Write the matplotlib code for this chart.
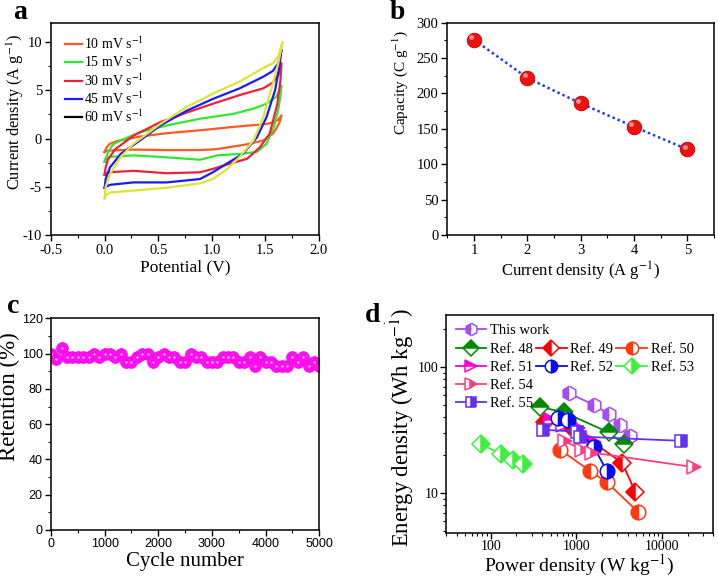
import matplotlib
matplotlib.use("Agg")
import matplotlib.pyplot as plt
import matplotlib.transforms as mtransforms
from matplotlib.lines import Line2D
from matplotlib.ticker import MultipleLocator, FuncFormatter, LogLocator, NullFormatter

plt.rcParams['font.family'] = ['Liberation Serif', 'DejaVu Serif']
plt.rcParams['mathtext.fontset'] = 'stix'
plt.rcParams['axes.unicode_minus'] = False

# ---------------- data ----------------
# (a) CV curves
cv_labels = ['10 mV s$^{-1}$', '15 mV s$^{-1}$', '30 mV s$^{-1}$', '45 mV s$^{-1}$', '60 mV s$^{-1}$']
cv10_x = [0, 0.02, 0.05, 0.12, 0.21, 0.33, 0.58, 0.89, 1.2, 1.51, 1.58, 1.62, 1.65, 1.63, 1.60, 1.57, 1.48, 1.33, 1.05, 0.89, 0.58, 0.27, 0.05, 0.01, 0]
cv10_y = [-1.4, -0.9, -0.55, -0.25, -0.05, 0.2, 0.55, 0.85, 1.2, 1.5, 1.7, 1.95, 2.4, 1.6, 1.0, 0.5, -0.2, -0.6, -1.1, -1.2, -1.2, -1.15, -1.25, -1.3, -1.4]
cv15_x = [0, 0.02, 0.04, 0.08, 0.15, 0.33, 0.58, 0.89, 1.2, 1.39, 1.51, 1.60, 1.65, 1.64, 1.62, 1.58, 1.51, 1.42, 1.26, 1.05, 0.89, 0.58, 0.27, 0.05, 0.01, 0]
cv15_y = [-2.4, -1.8, -1.25, -0.6, -0.2, 0.65, 1.35, 2.05, 2.55, 3.1, 3.6, 4.3, 5.5, 4.4, 3.0, 1.2, -0.55, -1.4, -1.6, -1.75, -2.2, -1.95, -1.75, -1.9, -2.1, -2.4]
cv30_x = [0, 0.01, 0.03, 0.1, 0.27, 0.52, 0.77, 1.01, 1.26, 1.48, 1.57, 1.62, 1.65, 1.64, 1.61, 1.54, 1.45, 1.33, 1.17, 1.01, 0.89, 0.58, 0.27, 0.05, 0.01, 0]
cv30_y = [-3.75, -3.0, -2.2, -1.1, 0.3, 1.7, 2.7, 3.6, 4.5, 5.2, 5.8, 6.6, 7.8, 6.0, 3.5, 0.5, -0.9, -2.1, -2.6, -3.15, -3.5, -3.6, -3.35, -3.5, -3.6, -3.75]
cv45_x = [0, 0.01, 0.05, 0.15, 0.33, 0.52, 0.77, 1.01, 1.26, 1.48, 1.57, 1.62, 1.65, 1.63, 1.59, 1.51, 1.42, 1.29, 1.14, 1.01, 0.89, 0.58, 0.27, 0.05, 0.01, 0]
cv45_y = [-5.1, -4.2, -3.0, -1.6, -0.2, 1.35, 2.9, 4.1, 5.2, 6.4, 7.0, 7.8, 9.2, 7.4, 5.0, 2.2, 0.1, -1.6, -2.6, -3.5, -4.2, -4.55, -4.55, -4.8, -5.0, -5.1]
cv60_x = [0, 0.01, 0.05, 0.15, 0.27, 0.52, 0.77, 1.01, 1.26, 1.48, 1.57, 1.62, 1.66, 1.62, 1.56, 1.48, 1.39, 1.26, 1.14, 1.01, 0.89, 0.58, 0.27, 0.05, 0.01, 0]
cv60_y = [-6.2, -5.0, -3.7, -1.9, -0.55, 1.5, 3.3, 4.65, 5.9, 7.3, 7.8, 8.5, 10.0, 7.8, 5.3, 2.2, -0.2, -1.9, -3.2, -4.2, -4.65, -5.1, -5.4, -5.6, -5.9, -6.2]

# (b) capacity vs current density
current_density = [1, 2, 3, 4, 5]
capacity = [276, 222, 186, 153, 121]

# (c) cycling retention
cycles = list(range(0, 5001, 100))
retention = [100, 97, 103, 98, 98, 98, 98, 98, 100, 98, 100, 100, 98, 100, 95, 95, 98, 100, 100, 95,
             98, 100, 98, 98, 95, 95, 100, 98, 98, 95, 95, 95, 98, 98, 98, 95, 95, 98, 93, 98,
             95, 95, 93, 93, 93, 98, 95, 98, 93, 95, 93]

# (d) Ragone plot
rag_labels = ['This work', 'Ref. 48', 'Ref. 49', 'Ref. 50', 'Ref. 51', 'Ref. 52', 'Ref. 53', 'Ref. 54', 'Ref. 55']
p_this = [813, 1597, 2393, 3280, 4217];  e_this = [62.2, 50.2, 42.4, 34.9, 28.2]
p_48 = [378, 723, 2393, 3589];           e_48 = [48.2, 43.7, 30.3, 24.6]
p_49 = [432, 849, 3460, 4910];           e_49 = [36.8, 33.8, 17.4, 10.2]
p_50 = [649, 1434, 2287, 5232];          e_50 = [22.1, 15.1, 12.2, 7.15]
p_51 = [509, 703, 1055, 1625];           e_51 = [38.2, 34.8, 33.0, 25.5]
p_52 = [619, 811, 1592, 2285];           e_52 = [39.6, 37.7, 23.4, 15.0]
p_53 = [76, 131, 181, 241];              e_53 = [24.6, 20.5, 18.2, 17.1]
p_54 = [743, 1165, 1527, 23700];         e_54 = [25.7, 22.1, 21.0, 16.1]
p_55 = [413, 1018, 1114, 16860];         e_55 = [31.8, 30.8, 28.1, 26.0]

# ---------------- figure ----------------
W, H = 718, 578
fig = plt.figure(figsize=(W / 100, H / 100), dpi=100)
fig.patch.set_facecolor('white')


def ax_px(l, t, r, b):
    return fig.add_axes([l / W, 1 - b / H, (r - l) / W, (b - t) / H])


def style(ax, lab=10.5, pad=2.5):
    ax.tick_params(which='both', direction='out', top=False, right=False)
    ax.tick_params(which='major', length=4, width=1, labelsize=lab, pad=pad)
    ax.tick_params(which='minor', length=2.2, width=0.8)
    for s in ax.spines.values():
        s.set_linewidth(1.1)


# ---- (a) ----
axa = ax_px(51, 22.7, 319, 235)
cv_colors = ['#FF5A1F', '#33E633', '#F0203A', '#1A1AFF', '#DDE530']
for xs, ys, c in zip([cv10_x, cv15_x, cv30_x, cv45_x, cv60_x],
                     [cv10_y, cv15_y, cv30_y, cv45_y, cv60_y], cv_colors):
    axa.plot(xs, ys, color=c, lw=1.6, solid_joinstyle='round')
axa.set_xlim(-0.5, 2.0)
axa.set_ylim(-10, 12)
axa.xaxis.set_major_locator(MultipleLocator(0.5))
axa.xaxis.set_minor_locator(MultipleLocator(0.25))
axa.yaxis.set_major_locator(MultipleLocator(5))
axa.yaxis.set_minor_locator(MultipleLocator(2.5))
style(axa)
axa.set_xlabel('Potential (V)', fontsize=12.5, labelpad=2)
axa.set_ylabel('Current density (A g$^{-1}$)', fontsize=11.8)
axa.yaxis.set_label_coords(-0.095, 0.58)
leg_colors = ['#FF5A1F', '#33E633', '#F0203A', '#1A1AFF', '#000000']
handles = [Line2D([], [], color=c, lw=1.6) for c in leg_colors]
axa.legend(handles, cv_labels, loc='upper left', bbox_to_anchor=(0.03, 0.965), frameon=False,
           fontsize=10, handlelength=1.25, handletextpad=0.15, labelspacing=0.12, borderaxespad=0)
fig.text(13 / W, 1 - 19 / H, 'a', fontsize=20, fontweight='bold')

# ---- (b) ----
axb = ax_px(447.3, 22.7, 714, 235)
axb.plot(current_density, capacity, linestyle=(0, (1, 1.2)), color='#2040E0', lw=1.8, zorder=2)
axb.plot(current_density, capacity, 'o', ms=10.5, color='#F01010', mec='#C00000', mew=0.6, zorder=3)
hl = mtransforms.offset_copy(axb.transData, fig=fig, x=-1.8, y=1.8, units='points')
axb.plot(current_density, capacity, 'o', ms=3.5, color='#FF9090', mec='none', transform=hl, zorder=4)
axb.set_xlim(0.5, 5.5)
axb.set_ylim(0, 300)
axb.xaxis.set_major_locator(MultipleLocator(1))
axb.xaxis.set_minor_locator(MultipleLocator(0.5))
axb.yaxis.set_major_locator(MultipleLocator(50))
axb.yaxis.set_minor_locator(MultipleLocator(25))
style(axb)
axb.set_xlabel('Current density (A g$^{-1}$)', fontsize=12, labelpad=2)
axb.set_ylabel('Capacity (C g$^{-1}$)', fontsize=11)
axb.yaxis.set_label_coords(-0.14, 0.72)
fig.text(390 / W, 1 - 19 / H, 'b', fontsize=20, fontweight='bold')

# ---- (c) ----
axc = ax_px(51, 318.3, 319.3, 530)
axc.plot(cycles, retention, 'o', ms=8.5, color='#FF10F0', mec='#FF00E8', mew=0.5)
axc.plot(cycles, retention, 'o', ms=1.6, color='#FFD0FF', mec='none')
axc.set_xlim(0, 5000)
axc.set_ylim(0, 120)
axc.xaxis.set_major_locator(MultipleLocator(1000))
axc.xaxis.set_minor_locator(MultipleLocator(500))
axc.yaxis.set_major_locator(MultipleLocator(20))
axc.yaxis.set_minor_locator(MultipleLocator(10))
style(axc, lab=9, pad=2)
for t in axc.get_xticklabels() + axc.get_yticklabels():
    t.set_family(['Liberation Sans', 'DejaVu Sans'])
axc.set_xlabel('Cycle number', fontsize=15, labelpad=1)
axc.set_ylabel('Retention (%)', fontsize=16.5)
axc.yaxis.set_label_coords(-0.115, 0.63)
fig.text(7 / W, 1 - 313 / H, 'c', fontsize=20, fontweight='bold')

# ---- (d) ----
axd = ax_px(446, 315, 713.3, 532.7)
series = [
    (p_this, e_this, '#A64CF0', 'h', 'left'),
    (p_48, e_48, '#008A00', 'D', 'top'),
    (p_49, e_49, '#FF0000', 'D', 'left'),
    (p_50, e_50, '#FF3A10', 'o', 'left'),
    (p_51, e_51, '#FF00CC', '>', 'top'),
    (p_52, e_52, '#0A0AF0', 'o', 'right'),
    (p_53, e_53, '#3CF03C', 'D', 'right'),
    (p_54, e_54, '#FF3D80', '>', 'right'),
    (p_55, e_55, '#6630F0', 's', 'right'),
]
lines = []
for (px, ey, c, m, fs), lab in zip(series, rag_labels):
    msz = 10.5 if m in ('o', 'h', '>') else 9
    ln, = axd.plot(px, ey, color=c, lw=1.3, marker=m, ms=msz, fillstyle=fs,
                   markerfacecoloralt='white', mec=c, mew=1.1, label=lab)
    lines.append(ln)
axd.set_xscale('log')
axd.set_yscale('log')
axd.set_xlim(30, 40000)
axd.set_ylim(4.87, 258)
fmt = FuncFormatter(lambda v, p: '%d' % round(v))
axd.xaxis.set_major_formatter(fmt)
axd.yaxis.set_major_formatter(fmt)
axd.xaxis.set_minor_formatter(NullFormatter())
axd.yaxis.set_minor_formatter(NullFormatter())
axd.xaxis.set_major_locator(LogLocator(base=10, numticks=10))
axd.yaxis.set_major_locator(LogLocator(base=10, numticks=10))
style(axd, lab=10, pad=1.5)
axd.set_xlabel('Power density (W kg$^{-1}$)', fontsize=14)
axd.xaxis.set_label_coords(0.5, -0.092)
axd.set_ylabel('Energy density (Wh kg$^{-1}$)', fontsize=16.3)
axd.yaxis.set_label_coords(-0.112, 0.483)
blank = Line2D([], [], alpha=0)
leg_kw = dict(frameon=False, fontsize=10.5, handlelength=2.1, handletextpad=0.25,
              labelspacing=0.32, columnspacing=0.2, borderaxespad=0, markerscale=0.85,
              loc='upper left')
leg1 = axd.legend([lines[0]], ['This work'], bbox_to_anchor=(0.015, 0.985), **leg_kw)
axd.add_artist(leg1)
leg_h = [lines[1], lines[4], lines[7], lines[8],
         lines[2], lines[5], blank, blank,
         lines[3], lines[6], blank, blank]
leg_l = ['Ref. 48', 'Ref. 51', 'Ref. 54', 'Ref. 55',
         'Ref. 49', 'Ref. 52', '', '',
         'Ref. 50', 'Ref. 53', '', '']
axd.legend(leg_h, leg_l, ncol=3, bbox_to_anchor=(0.015, 0.985 - 19 / 217.7), **leg_kw)
fig.text(365 / W, 1 - 322 / H, 'd', fontsize=20, fontweight='bold')
fig.text(382 / W, 1 - 324 / H, '.', fontsize=8)

fig.savefig('out.png', dpi=100)
